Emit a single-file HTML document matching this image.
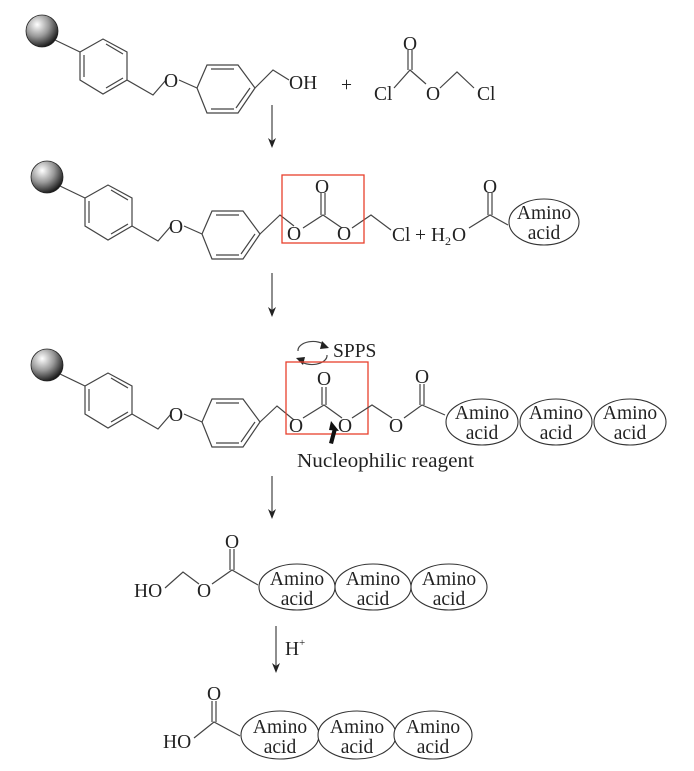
<!DOCTYPE html>
<html><head><meta charset="utf-8"><style>
html,body{margin:0;padding:0;background:#fff;}
svg{display:block;}
text{font-family:"Liberation Serif",serif;font-size:19.5px;fill:#222;}
.b{stroke:#444;stroke-width:1.2;fill:none;}
.e{stroke:#333;stroke-width:1.1;fill:#fff;}
.r{stroke:#e8402c;stroke-width:1.3;fill:none;}
.a{fill:#222;}
</style></head><body>
<svg width="694" height="771" viewBox="0 0 694 771" xmlns="http://www.w3.org/2000/svg">
<defs>
<radialGradient id="g" cx="0.35" cy="0.3" r="0.75">
<stop offset="0" stop-color="#fff"/><stop offset="0.5" stop-color="#999"/><stop offset="1" stop-color="#111"/>
</radialGradient>
<g id="resin">
<circle cx="42" cy="31" r="16" fill="url(#g)" stroke="#222" stroke-width="0.8"/>
<path class="b" d="M55,40 L80,52"/>
<path class="b" d="M80,52 L103,39 L127,52 L127,80 L103,94 L80,80 Z"/>
<path class="b" d="M106,44 L123,54 M123,78 L106,88 M84,55 L84,77"/>
<path class="b" d="M127,80 L153,95 L166,80"/>
<text x="164" y="87">O</text>
<path class="b" d="M179,80 L197,88"/>
<path class="b" d="M197,88 L207,65 L238,65 L255,88 L238,113 L207,113 Z"/>
<path class="b" d="M211,69 L234,69 M234,109 L211,109 M250,88 L236,108"/>
</g>
</defs>

<!-- Row 1 -->
<use href="#resin"/>
<path class="b" d="M255,88 L273,70 L289,80"/>
<text x="289" y="89">OH</text>
<text x="341" y="91">+</text>
<text x="374" y="100">Cl</text>
<path class="b" d="M394,88 L410,70 L426,84"/>
<path class="b" d="M408,70 L408,50 M412,70 L412,50"/>
<text x="403" y="50">O</text>
<text x="426" y="100">O</text>
<path class="b" d="M440,88 L457,72 L474,88"/>
<text x="477" y="100">Cl</text>
<line class="b" x1="272" y1="105" x2="272" y2="146"/>
<path class="a" d="M268,138 L272,148 L276,138 L272,141 Z"/>

<!-- Row 2 -->
<use href="#resin" transform="translate(5,146)"/>
<path class="b" d="M260,234 L280,215 L294,226"/>
<text x="287" y="240">O</text>
<path class="b" d="M303,228 L323,215 L342,228"/>
<path class="b" d="M321,215 L321,193 M325,215 L325,193"/>
<text x="315" y="193">O</text>
<text x="337" y="240">O</text>
<path class="b" d="M352,228 L371,215 L391,230"/>
<text x="392" y="241">Cl</text>
<text x="415" y="241">+</text>
<text x="431" y="241">H</text>
<text x="445" y="245" style="font-size:12px">2</text>
<text x="452" y="241">O</text>
<path class="b" d="M469,228 L490,215 L508,225"/>
<path class="b" d="M488,215 L488,193 M492,215 L492,193"/>
<text x="483" y="193">O</text>
<rect class="r" x="282" y="175" width="82" height="68"/>
<ellipse class="e" cx="544" cy="222" rx="35" ry="23"/>
<text x="544" y="219" text-anchor="middle">Amino</text>
<text x="544" y="239" text-anchor="middle">acid</text>
<line class="b" x1="272" y1="273" x2="272" y2="315"/>
<path class="a" d="M268,307 L272,317 L276,307 L272,310 Z"/>

<!-- Row 3 -->
<use href="#resin" transform="translate(5,334)"/>
<path class="b" d="M260,422 L277,406 L294,420"/>
<path class="b" d="M298,351 A15,9 0 0 1 326,346"/>
<path class="a" d="M322,341 L329,348 L320,349 Z"/>
<path class="b" d="M327,355 A15,9 0 0 1 299,360"/>
<path class="a" d="M303,365 L296,358 L305,357 Z"/>
<text x="333" y="357">SPPS</text>
<rect class="r" x="286" y="362" width="82" height="72"/>
<text x="317" y="385">O</text>
<path class="b" d="M322,405 L322,387 M326,405 L326,387"/>
<text x="289" y="432">O</text>
<path class="b" d="M303,418 L324,405 L342,418"/>
<text x="338" y="432">O</text>
<path class="b" d="M352,418 L372,405 L392,418"/>
<text x="389" y="432">O</text>
<path class="b" d="M404,418 L422,405 L445,415"/>
<path class="b" d="M420,405 L420,384 M424,405 L424,384"/>
<text x="415" y="383">O</text>
<ellipse class="e" cx="482" cy="422" rx="36" ry="23"/>
<ellipse class="e" cx="556" cy="422" rx="36" ry="23"/>
<ellipse class="e" cx="630" cy="422" rx="36" ry="23"/>
<text x="482" y="419" text-anchor="middle">Amino</text><text x="482" y="439" text-anchor="middle">acid</text>
<text x="556" y="419" text-anchor="middle">Amino</text><text x="556" y="439" text-anchor="middle">acid</text>
<text x="630" y="419" text-anchor="middle">Amino</text><text x="630" y="439" text-anchor="middle">acid</text>
<path d="M329,443 L333,428 L337,429 L333,444 Z" fill="#111"/>
<path d="M331,421 L339,431 L329,430 Z" fill="#111"/>
<text x="297" y="467" textLength="177" lengthAdjust="spacingAndGlyphs">Nucleophilic reagent</text>
<line class="b" x1="272" y1="476" x2="272" y2="517"/>
<path class="a" d="M268,509 L272,519 L276,509 L272,512 Z"/>

<!-- Row 4 -->
<text x="134" y="597">HO</text>
<path class="b" d="M165,588 L183,572 L199,584"/>
<text x="197" y="597">O</text>
<path class="b" d="M212,584 L232,570 L258,585"/>
<path class="b" d="M230,570 L230,549 M234,570 L234,549"/>
<text x="225" y="548">O</text>
<ellipse class="e" cx="297" cy="587" rx="38" ry="23"/>
<ellipse class="e" cx="373" cy="587" rx="38" ry="23"/>
<ellipse class="e" cx="449" cy="587" rx="38" ry="23"/>
<text x="297" y="585" text-anchor="middle">Amino</text><text x="297" y="605" text-anchor="middle">acid</text>
<text x="373" y="585" text-anchor="middle">Amino</text><text x="373" y="605" text-anchor="middle">acid</text>
<text x="449" y="585" text-anchor="middle">Amino</text><text x="449" y="605" text-anchor="middle">acid</text>
<line class="b" x1="276" y1="626" x2="276" y2="671"/>
<path class="a" d="M272,663 L276,673 L280,663 L276,666 Z"/>
<text x="285" y="655">H</text><text x="299" y="646" style="font-size:11px">+</text>

<!-- Row 5 -->
<text x="163" y="748">HO</text>
<path class="b" d="M194,738 L214,722 L240,736"/>
<path class="b" d="M212,722 L212,701 M216,722 L216,701"/>
<text x="207" y="700">O</text>
<ellipse class="e" cx="280" cy="735" rx="39" ry="24"/>
<ellipse class="e" cx="357" cy="735" rx="39" ry="24"/>
<ellipse class="e" cx="433" cy="735" rx="39" ry="24"/>
<text x="280" y="733" text-anchor="middle">Amino</text><text x="280" y="753" text-anchor="middle">acid</text>
<text x="357" y="733" text-anchor="middle">Amino</text><text x="357" y="753" text-anchor="middle">acid</text>
<text x="433" y="733" text-anchor="middle">Amino</text><text x="433" y="753" text-anchor="middle">acid</text>
</svg>
</body></html>
